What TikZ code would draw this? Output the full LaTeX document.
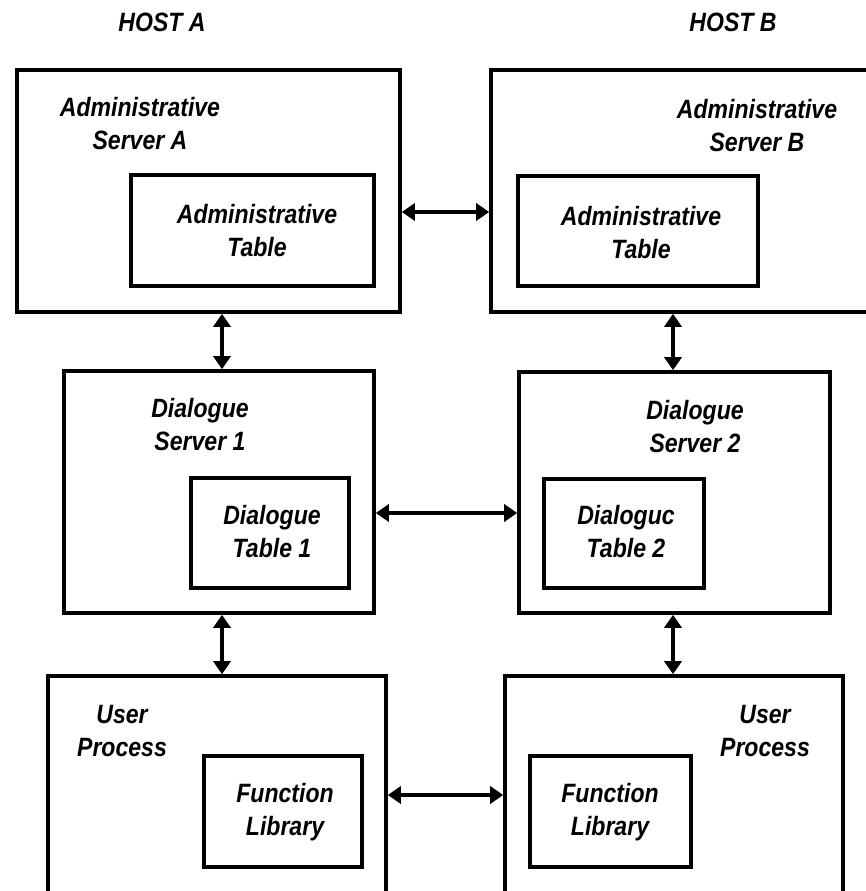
\documentclass[tikz,border=0pt]{standalone}
\usepackage{fontspec}
\setmainfont{Liberation Sans}[FakeStretch=0.87]
\usetikzlibrary{arrows.meta}
\tikzset{
  box/.style={draw, line width=3.6pt, inner sep=0pt, outer sep=1.8pt},
  tbox/.style={draw, line width=3.3pt, inner sep=0pt, outer sep=1.65pt},
  lbl/.style={font=\fontsize{26.5}{33}\selectfont\bfseries\itshape, align=center, inner sep=0pt},
  dbl/.style={line width=3.4pt, {Triangle[length=13pt,width=17pt]}-{Triangle[length=13pt,width=17pt]}}
}
\begin{document}
\begin{tikzpicture}[x=1pt,y=-1pt]
\fill[white] (0,0) rectangle (866,891);
\useasboundingbox (0,0) rectangle (866,891);

% host labels
\node[lbl] (hostA) at (162,22) {HOST A};
\node[lbl] (hostB) at (733,22) {HOST B};

% outer boxes
\node[box, minimum width=383pt, minimum height=242pt] (adminA) at (208.5,191) {};
\node[box, minimum width=381pt, minimum height=242pt] (adminB) at (681.5,191) {};
\node[box, minimum width=310pt, minimum height=242pt] (ds1) at (219,492) {};
\node[box, minimum width=311pt, minimum height=241pt] (ds2) at (674.5,492.5) {};
\node[box, minimum width=338pt, minimum height=221pt] (upA) at (217,786.5) {};
\node[box, minimum width=338pt, minimum height=221pt] (upB) at (674,786.5) {};

% inner boxes
\node[tbox, minimum width=243pt, minimum height=111pt] (tabA) at (252.5,230.5) {};
\node[tbox, minimum width=240pt, minimum height=110pt] (tabB) at (638,231) {};
\node[tbox, minimum width=158pt, minimum height=110pt] (dt1) at (270,533) {};
\node[tbox, minimum width=160pt, minimum height=109pt] (dt2) at (624,533.5) {};
\node[tbox, minimum width=158pt, minimum height=111pt] (flA) at (283,811.5) {};
\node[tbox, minimum width=161pt, minimum height=111pt] (flB) at (610.5,811.5) {};

% labels
\node[lbl] (lAdminA) at (140,124) {Administrative\\Server A};
\node[lbl] (lTabA) at (257,231) {Administrative\\Table};
\node[lbl] (lAdminB) at (757,126) {Administrative\\Server B};
\node[lbl] (lTabB) at (641,233) {Administrative\\Table};
\node[lbl] (lds1) at (200,425) {Dialogue\\Server 1};
\node[lbl] (ldt1) at (272,532) {Dialogue\\Table 1};
\node[lbl] (lds2) at (695,427) {Dialogue\\Server 2};
\node[lbl] (ldt2) at (626,532) {Dialoguc\\Table 2};
\node[lbl] (lupA) at (122,731) {User\\Process};
\node[lbl] (lflA) at (285,812) {Function\\Library};
\node[lbl] (lupB) at (765,731) {User\\Process};
\node[lbl] (lflB) at (610,812) {Function\\Library};

% connector guides
\coordinate (xa) at (222,0);
\coordinate (xb) at (673,0);
\coordinate (ya) at (0,212);
\coordinate (yb) at (0,513);
\coordinate (yc) at (0,795);

% connectors
\draw[dbl] (adminA.east |- ya) -- (adminB.west |- ya);
\draw[dbl] (adminA.south -| xa) -- (ds1.north -| xa);
\draw[dbl] (adminB.south -| xb) -- (ds2.north -| xb);
\draw[dbl] (ds1.east |- yb) -- (ds2.west |- yb);
\draw[dbl] (ds1.south -| xa) -- (upA.north -| xa);
\draw[dbl] (ds2.south -| xb) -- (upB.north -| xb);
\draw[dbl] (upA.east |- yc) -- (upB.west |- yc);
\end{tikzpicture}
\end{document}
